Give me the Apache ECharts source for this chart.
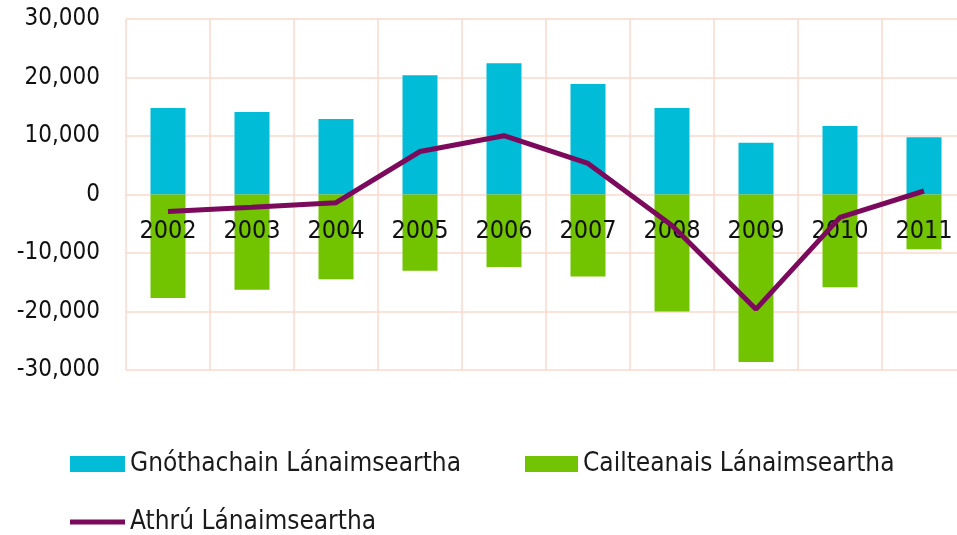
<!DOCTYPE html>
<html>
<head>
<meta charset="utf-8">
<script src="https://cdn.jsdelivr.net/npm/echarts@6/dist/echarts.min.js"></script>
<style>html,body{margin:0;padding:0;background:#fff;overflow:hidden;width:957px;height:535px;}#c{width:970px;height:535px;}</style>
</head>
<body>
<div id="c"></div>
<script>
const years = ['2002','2003','2004','2005','2006','2007','2008','2009','2010','2011'];
const gains = [14800, 14100, 12900, 20400, 22450, 18900, 14800, 8850, 11700, 9800];
const losses = [-17700, -16300, -14500, -13050, -12400, -14000, -20000, -28650, -15850, -9350];
const change = [-2900, -2200, -1400, 7350, 10050, 5300, -5300, -19600, -3900, 600];
const yTicks = { min: -30000, max: 30000, interval: 10000 };

const FONT = '"DejaVu Sans Condensed", "DejaVu Sans", sans-serif';
const GRID = '#fbd8cc';
const names = ['Gnóthachain Lánaimseartha', 'Cailteanais Lánaimseartha', 'Athrú Lánaimseartha'];
const chart = echarts.init(document.getElementById('c'));
const legendText = { fontFamily: FONT, fontSize: 26, color: '#1a1a1a' };
chart.setOption({
  animation: false,
  grid: { left: 126, top: 19, bottom: 165, right: 4, containLabel: false },
  legend: [
    { data: [names[0]], left: 70, top: 451, icon: 'rect', itemWidth: 55, itemHeight: 16, itemGap: 3, textStyle: legendText, padding: 0 },
    { data: [names[1]], left: 525, top: 451, icon: 'rect', itemWidth: 53, itemHeight: 16, itemGap: 3, textStyle: legendText, padding: 0 },
    { data: [names[2]], left: 70, top: 509, icon: 'rect', itemWidth: 55, itemHeight: 5, itemGap: 3, textStyle: legendText, padding: 0 }
  ],
  xAxis: [{
    type: 'category', data: years, boundaryGap: true,
    axisLine: { show: false, onZero: false },
    axisTick: { show: false },
    axisLabel: { show: false },
    splitLine: { show: true, lineStyle: { color: GRID, width: 1.5 } }
  }, {
    type: 'category', data: years, boundaryGap: true, position: 'bottom',
    offset: -175.5, z: 10,
    axisLine: { show: false, onZero: false },
    axisTick: { show: false },
    axisLabel: { fontFamily: FONT, fontSize: 25, color: '#111', margin: 24 },
    splitLine: { show: false }
  }],
  yAxis: {
    type: 'value', min: yTicks.min, max: yTicks.max, interval: yTicks.interval,
    axisLine: { show: false }, axisTick: { show: false },
    axisLabel: { fontFamily: FONT, fontSize: 24, color: '#111', margin: 26,
      formatter: v => v.toLocaleString('en-US') },
    splitLine: { show: true, lineStyle: { color: GRID, width: 1.5 } }
  },
  series: [
    { name: names[0], type: 'bar', stack: 'a', data: gains, barWidth: 35, itemStyle: { color: '#00bcd6' } },
    { name: names[1], type: 'bar', stack: 'a', data: losses, barWidth: 35, itemStyle: { color: '#72c300' } },
    { name: names[2], type: 'line', data: change, symbol: 'none', lineStyle: { color: '#7c0a5c', width: 5 }, itemStyle: { color: '#7c0a5c' }, z: 12 }
  ]
});
</script>
</body>
</html>
